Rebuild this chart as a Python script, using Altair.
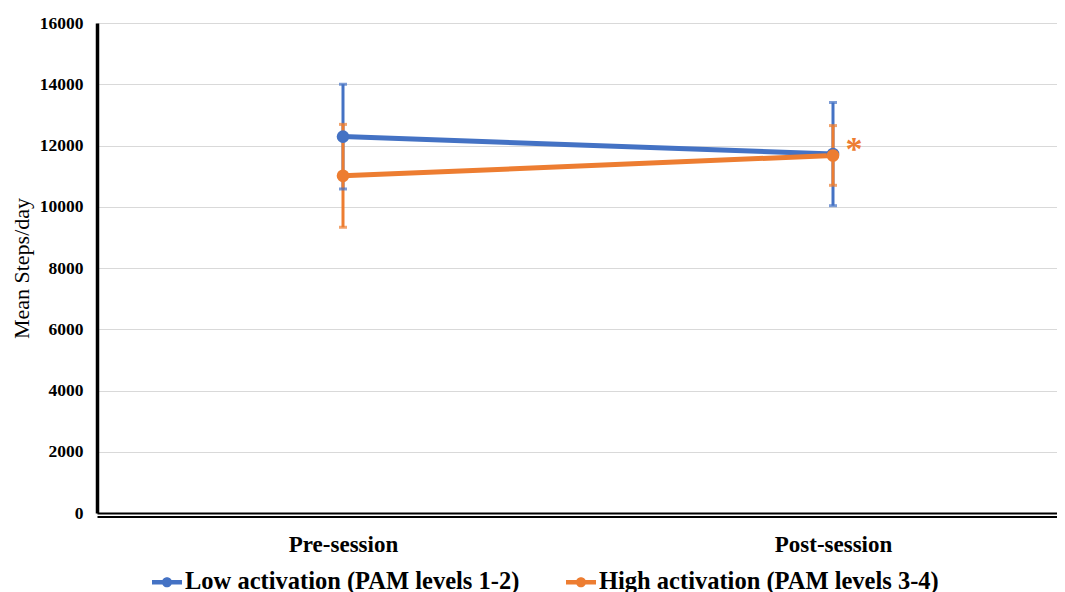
import altair as alt
import pandas as pd

sessions = ["Pre-session", "Post-session"]
session_pos = [0, 1]
low_mean = [12290, 11720]
low_err = [1710, 1685]
high_mean = [11010, 11675]
high_err = [1680, 975]
series = ["Low activation (PAM levels 1-2)", "High activation (PAM levels 3-4)"]
colors = ["#4472C4", "#ED7D31"]
star_text = "*"
star_value = 11850

rows = []
for name, means, errs in [(series[0], low_mean, low_err), (series[1], high_mean, high_err)]:
    for s, p, m, e in zip(sessions, session_pos, means, errs):
        rows.append({"series": name, "session": s, "pos": p, "mean": m,
                     "lo": m - e, "hi": m + e})
df = pd.DataFrame(rows)
star_df = pd.DataFrame({"pos": [1], "value": [star_value], "label": [star_text]})

W, H = 960, 490
px_per_unit = 490.0
xmin = -246.0 / px_per_unit
xmax = xmin + W / px_per_unit

serif = "Liberation Serif"

x_enc = alt.X("pos:Q", scale=alt.Scale(domain=[xmin, xmax], nice=False, zero=False),
              axis=alt.Axis(values=[0, 1], labelExpr="datum.value == 0 ? 'Pre-session' : 'Post-session'",
                            title=None, grid=False, ticks=False, domainColor="black",
                            domainWidth=2, offset=3.5, labelFont=serif, labelFontSize=23,
                            labelFontWeight="bold", labelColor="black", labelPadding=17))
y_scale = alt.Scale(domain=[0, 16000], nice=False)
y_axis = alt.Axis(values=list(range(0, 16001, 2000)), format="d", title="Mean Steps/day", titleFont=serif,
                  titleFontSize=22, titleFontWeight="normal", titleColor="black", titlePadding=6,
                  labelFont=serif, labelFontSize=17.5, labelFontWeight="bold", labelColor="black",
                  labelPadding=14, ticks=False, domainColor="black", domainWidth=3.5,
                  gridColor={"condition": {"test": "datum.value === 0", "value": "black"}, "value": "#d9d9d9"},
                  gridWidth={"condition": {"test": "datum.value === 0", "value": 2}, "value": 1})

legend_symbol = ("M-1,-0.15H1V0.15H-1Z"
                 "M-0.34,0A0.34,0.34,0,1,1,0.34,0A0.34,0.34,0,1,1,-0.34,0Z")
legend = alt.Legend(title=None, orient="none", direction="horizontal",
                    legendX=55, legendY=544, symbolType=legend_symbol,
                    symbolSize=900, symbolStrokeWidth=0, symbolOpacity=1,
                    labelFont=serif, labelFontSize=24.5, labelFontWeight="bold",
                    labelColor="black", labelOffset=3, columnPadding=46,
                    labelLimit=500)
color_enc = alt.Color("series:N", scale=alt.Scale(domain=series, range=colors), legend=legend)

base = alt.Chart(df)

rules = base.mark_rule(strokeWidth=3).encode(
    x=x_enc,
    y=alt.Y("lo:Q", scale=y_scale, axis=y_axis),
    y2="hi:Q",
    color=color_enc,
)
caps_lo = base.mark_tick(size=8, thickness=3, orient="horizontal").encode(
    x="pos:Q", y="lo:Q", color=color_enc)
caps_hi = base.mark_tick(size=8, thickness=3, orient="horizontal").encode(
    x="pos:Q", y="hi:Q", color=color_enc)

lines = base.mark_line(strokeWidth=5).encode(
    x="pos:Q", y="mean:Q", color=color_enc)
points = base.mark_point(filled=True, size=160, opacity=1).encode(
    x="pos:Q", y="mean:Q", color=color_enc)

star = alt.Chart(star_df).mark_text(color="#ED7D31", font=serif, fontSize=34, fontWeight="bold",
                                    dx=21, baseline="middle", align="center").encode(
    x="pos:Q", y="value:Q", text="label:N")

chart = alt.layer(rules, caps_lo, caps_hi, lines, points, star).properties(
    width=W, height=H,
    autosize=alt.AutoSizeParams(type="none"),
    padding={"left": 89, "top": 15, "right": 0, "bottom": 80},
).configure_view(stroke=None).configure(background="white")

chart.save("out.html", embed_options={"renderer": "svg", "actions": False})
